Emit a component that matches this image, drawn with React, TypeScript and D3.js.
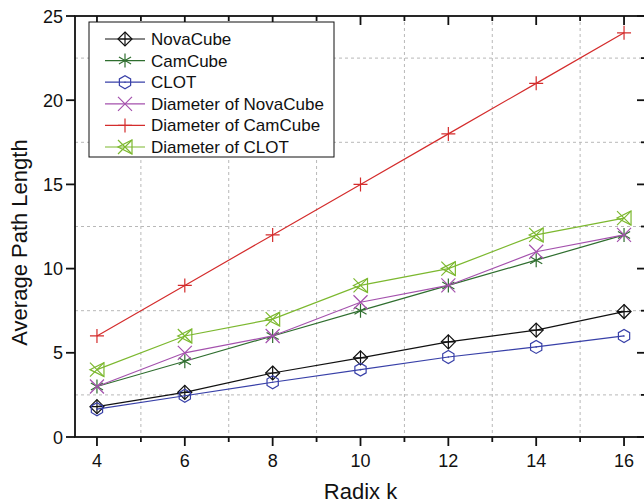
import React from 'react';
import * as d3 from 'd3';

const radix = [4, 6, 8, 10, 12, 14, 16];
const novaCube = [1.8, 2.65, 3.8, 4.7, 5.65, 6.35, 7.45];
const camCube = [3, 4.5, 6, 7.5, 9, 10.5, 12];
const clot = [1.65, 2.45, 3.25, 4.0, 4.75, 5.35, 6.0];
const diamNovaCube = [3, 5, 6, 8, 9, 11, 12];
const diamCamCube = [6, 9, 12, 15, 18, 21, 24];
const diamClot = [4, 6, 7, 9, 10, 12, 13];

const xTicks = [4, 6, 8, 10, 12, 14, 16];
const xMinor = [5, 7, 9, 11, 13, 15];
const yTicks = [0, 5, 10, 15, 20, 25];
const yMinor = [2.5, 7.5, 12.5, 17.5, 22.5];

const series = [
  { name: 'NovaCube', values: novaCube, color: '#111111', marker: 'diamondPlus' },
  { name: 'CamCube', values: camCube, color: '#2f6e2f', marker: 'asterisk' },
  { name: 'CLOT', values: clot, color: '#3840a8', marker: 'hexagon' },
  { name: 'Diameter of NovaCube', values: diamNovaCube, color: '#a451ad', marker: 'cross' },
  { name: 'Diameter of CamCube', values: diamCamCube, color: '#d42c2c', marker: 'plus' },
  { name: 'Diameter of CLOT', values: diamClot, color: '#7cb82f', marker: 'xTriangle' },
];

const font = "'Liberation Sans', Arial, sans-serif";

function Marker({ type, x, y, color }: { type: string; x: number; y: number; color: string }) {
  const p = { stroke: color, strokeWidth: 1.2, fill: 'none' };
  const t = `translate(${x},${y})`;
  if (type === 'diamondPlus') {
    const r = 7;
    return (
      <g transform={t} {...p}>
        <path d={`M0,${-r}L${r},0L0,${r}L${-r},0Z`} />
        <path d={`M0,${-r}V${r}M${-r},0H${r}`} />
      </g>
    );
  }
  if (type === 'asterisk') {
    const r = 7;
    const a = r * Math.cos(Math.PI / 6);
    const b = r * Math.sin(Math.PI / 6);
    return (
      <g transform={t} {...p}>
        <path d={`M0,${-r}V${r}M${-a},${-b}L${a},${b}M${-a},${b}L${a},${-b}`} />
      </g>
    );
  }
  if (type === 'hexagon') {
    const r = 6.5;
    const pts = d3.range(6).map((i) => {
      const ang = Math.PI / 6 + (i * Math.PI) / 3;
      return [r * Math.cos(ang), r * Math.sin(ang)];
    });
    return (
      <g transform={t}>
        <path d={'M' + pts.map((q) => q.join(',')).join('L') + 'Z'} {...p} />
        <circle r={0.8} fill={color} />
      </g>
    );
  }
  if (type === 'cross') {
    const r = 7;
    return (
      <g transform={t} {...p}>
        <path d={`M${-r},${-r}L${r},${r}M${-r},${r}L${r},${-r}`} />
      </g>
    );
  }
  if (type === 'plus') {
    const r = 7;
    return (
      <g transform={t} {...p}>
        <path d={`M0,${-r}V${r}M${-r},0H${r}`} />
      </g>
    );
  }
  // xTriangle
  const r = 7;
  return (
    <g transform={t} {...p}>
      <path d={`M${-r},${-r}L${r},${r}M${-r},${r}L${r},${-r}`} />
      <path d={`M${r},${-r}V${r}L${-r},0Z`} />
    </g>
  );
}

const App = () => {
  const width = 644;
  const height = 504;
  const x = d3.scaleLinear().domain([3.5, 16.5]).range([75, 646]);
  const y = d3.scaleLinear().domain([0, 25]).range([437, 16]);

  const line = d3
    .line<number>()
    .x((_, i) => x(radix[i]))
    .y((d) => y(d));

  const left = x.range()[0];
  const right = x.range()[1];
  const top = y.range()[1];
  const bottom = y.range()[0];

  const legendX = 89;
  const legendY = 22;
  const rowH = 21.6;

  return (
    <svg
      width={width}
      height={height}
      style={{ position: 'absolute', left: 0, top: 0, background: '#fff' }}
      fontFamily={font}
    >
      <rect width={width} height={height} fill="#fff" />

      {/* grid */}
      <g stroke="#b8b8b8" strokeWidth={1} strokeDasharray="3,3">
        {xMinor.map((v) => (
          <line key={'gx' + v} x1={x(v)} x2={x(v)} y1={top} y2={bottom} />
        ))}
        {yMinor.map((v) => (
          <line key={'gy' + v} x1={left} x2={right} y1={y(v)} y2={y(v)} />
        ))}
      </g>

      {/* series */}
      {series.map((s) => (
        <g key={s.name}>
          <path d={line(s.values) || ''} fill="none" stroke={s.color} strokeWidth={1.2} />
          {s.values.map((v, i) => (
            <Marker key={i} type={s.marker} x={x(radix[i])} y={y(v)} color={s.color} />
          ))}
        </g>
      ))}

      {/* frame */}
      <rect x={left} y={top} width={right - left} height={bottom - top} fill="none" stroke="#111" strokeWidth={1.8} />

      {/* bottom axis ticks (outward) and top ticks (inward) */}
      <g stroke="#111" strokeWidth={1.8}>
        {xTicks.map((v) => (
          <g key={'xt' + v}>
            <line x1={x(v)} x2={x(v)} y1={bottom} y2={bottom + 9} />
            <line x1={x(v)} x2={x(v)} y1={top} y2={top + 9} />
          </g>
        ))}
        {xMinor.map((v) => (
          <g key={'xm' + v}>
            <line x1={x(v)} x2={x(v)} y1={bottom} y2={bottom + 5} />
            <line x1={x(v)} x2={x(v)} y1={top} y2={top + 5} />
          </g>
        ))}
        {yTicks.map((v) => (
          <g key={'yt' + v}>
            <line x1={left - 9} x2={left} y1={y(v)} y2={y(v)} />
            <line x1={right - 9} x2={right} y1={y(v)} y2={y(v)} />
          </g>
        ))}
        {yMinor.map((v) => (
          <line key={'ym' + v} x1={right - 5} x2={right} y1={y(v)} y2={y(v)} />
        ))}
      </g>

      {/* tick labels */}
      <g fontSize={18} fill="#111">
        {xTicks.map((v) => (
          <text key={'xl' + v} x={x(v)} y={467} textAnchor="middle">
            {v}
          </text>
        ))}
        {yTicks.map((v) => (
          <text key={'yl' + v} x={63} y={y(v) + 6.5} textAnchor="end">
            {v}
          </text>
        ))}
      </g>

      {/* axis titles */}
      <text x={x(10)} y={499} fontSize={22} textAnchor="middle" fill="#111">
        Radix k
      </text>
      <text
        transform={`translate(27,${(top + bottom) / 2 + 16}) rotate(-90)`}
        fontSize={22}
        textAnchor="middle"
        fill="#111"
      >
        Average Path Length
      </text>

      {/* legend */}
      <rect x={legendX} y={legendY} width={245} height={135} fill="#fff" stroke="#111" strokeWidth={1} />
      {series.map((s, i) => {
        const cy = legendY + 17 + i * rowH;
        return (
          <g key={'lg' + s.name}>
            <line x1={105} x2={145} y1={cy} y2={cy} stroke={s.color} strokeWidth={1.2} />
            <Marker type={s.marker} x={125} y={cy} color={s.color} />
            <text x={151} y={cy + 6} fontSize={17} fill="#111">
              {s.name}
            </text>
          </g>
        );
      })}
    </svg>
  );
};

export default App;
